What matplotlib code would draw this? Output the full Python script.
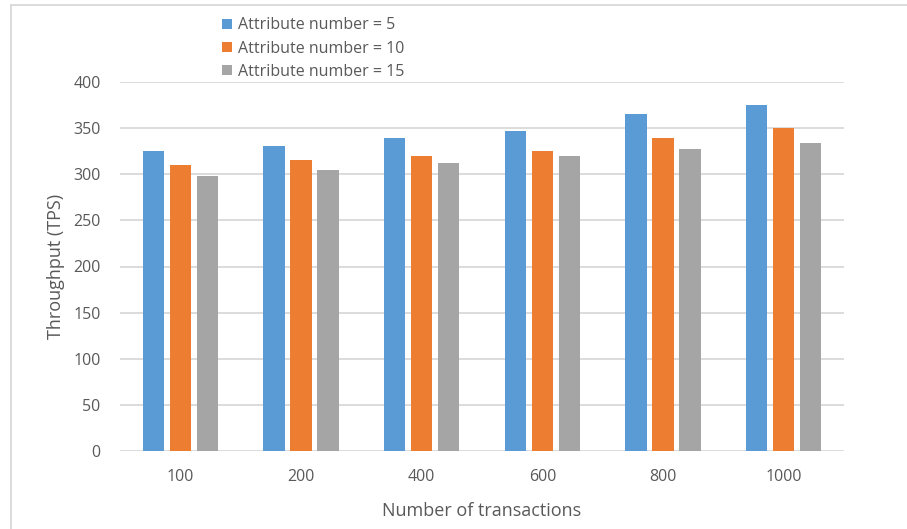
import numpy as np
import matplotlib
matplotlib.use("Agg")
from matplotlib import pyplot as plt
from matplotlib.lines import Line2D

# datos
categorias = ["100", "200", "400", "600", "800", "1000"]
attr5 = [325, 331, 339, 347, 365, 375]
attr10 = [310, 315, 320, 325, 339, 350]
attr15 = [298, 305, 312, 320, 327, 334]
series = ["Attribute number = 5", "Attribute number = 10", "Attribute number = 15"]
colores = ["#5B9BD5", "#ED7D31", "#A5A5A5"]

gris_texto = "#595959"
plt.rcParams['font.family'] = ['Open Sans', 'DejaVu Sans']

fig = plt.figure(figsize=(9.07, 5.29), dpi=100)
ax = fig.add_axes([120 / 907, 1 - 451 / 529, 724 / 907, 369 / 529])

x = np.arange(len(categorias))
ancho = 0.175
paso = 0.224
for k, (vals, col) in enumerate(zip([attr5, attr10, attr15], colores)):
    ax.bar(x + (k - 1) * paso, vals, width=ancho, color=col, label=series[k], zorder=3)

ax.set_xlim(-0.5, len(categorias) - 0.5)
ax.set_ylim(0, 400)
ax.set_yticks(range(0, 401, 50))
ax.set_xticks(x)
ax.set_xticklabels(categorias)
ax.grid(axis='y', color='#D9D9D9', linewidth=1.3, zorder=0)
for s in ax.spines.values():
    s.set_visible(False)
ax.tick_params(length=0, labelsize=11.5, colors=gris_texto)
ax.tick_params(axis='x', pad=13)
ax.tick_params(axis='y', pad=14)

ax.set_xlabel("Number of transactions", fontsize=13, color=gris_texto, labelpad=12)
ax.set_ylabel("Throughput (TPS)", fontsize=13, color=gris_texto, labelpad=6)

leg = ax.legend(loc='upper left', bbox_to_anchor=(216 / 907, 1 - 11 / 529),
                bbox_transform=fig.transFigure, frameon=False, fontsize=11.5,
                handlelength=0.6, handleheight=0.6, handletextpad=0.4,
                labelspacing=0.45, labelcolor=gris_texto, borderaxespad=0)

# borde del grafico
fig.add_artist(Line2D([11 / 907, 11 / 907], [0, 1 - 5 / 529], color='#D9D9D9', linewidth=1.3))
fig.add_artist(Line2D([11 / 907, 1], [1 - 5 / 529, 1 - 5 / 529], color='#D9D9D9', linewidth=1.3))

fig.savefig("out.png", dpi=100)
